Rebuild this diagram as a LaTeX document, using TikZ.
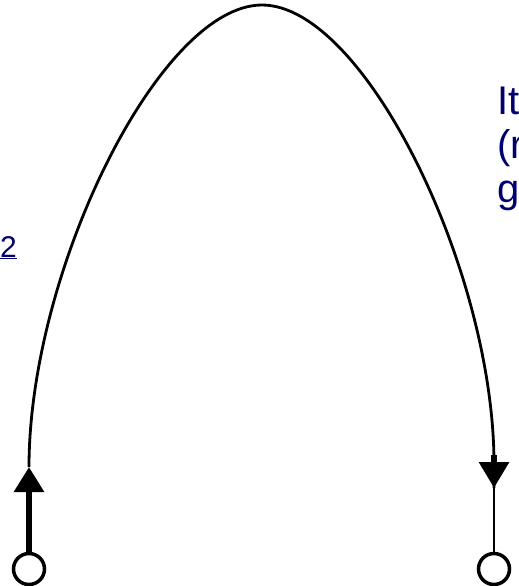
\documentclass[tikz,border=0pt]{standalone}
\usepackage{fontspec}
\setmainfont{Liberation Sans}
\usepackage{xcolor}
\usetikzlibrary{arrows.meta,positioning}
\definecolor{slideblue}{RGB}{0,0,110}

\begin{document}
\begin{tikzpicture}[
  x=1pt, y=-1pt,
  terminal/.style={draw, circle, line width=3.5pt, minimum size=31pt, inner sep=0pt},
  wire/.style={line width=2.8pt},
  stem/.style={line width=6pt},
  slidetext/.style={text=slideblue, font=\fontsize{40}{44}\selectfont, inner sep=0pt, anchor=base west}]
\clip (0,0) rectangle (519,586);
% pins at the bottom
\node[terminal] (lpin) at (29,569) {};
\node[terminal] (rpin) at (494,569) {};
\coordinate (ltip) at (29,467);
\coordinate (top) at (262,5);
\coordinate (rbase) at (494,455);
\coordinate (rtip) at (494,488);
% the arch
\draw[wire] (ltip) .. controls (29,270) and (160,5) .. (top)
  .. controls (364,5) and (494,270) .. (494,464) -- (rtip);
% arrows into / out of the arch
\draw[stem, -{Triangle[length=25pt, width=29pt]}] (lpin) -- (ltip);
\draw[stem, -{Triangle[length=26pt, width=29pt]}] (rbase) -- (rtip);
\draw[wire] (rtip) -- (rpin);
% text cut off by the frame
\node[slidetext] (note1) at (497,114) {It};
\node[slidetext] (note2) at (497,158) {(r};
\node[slidetext] (note3) at (497,202) {g};
\node[slidetext, font=\fontsize{30}{34}\selectfont, anchor=base east] (two) at (17,257) {\underline{2}};
\end{tikzpicture}
\end{document}
